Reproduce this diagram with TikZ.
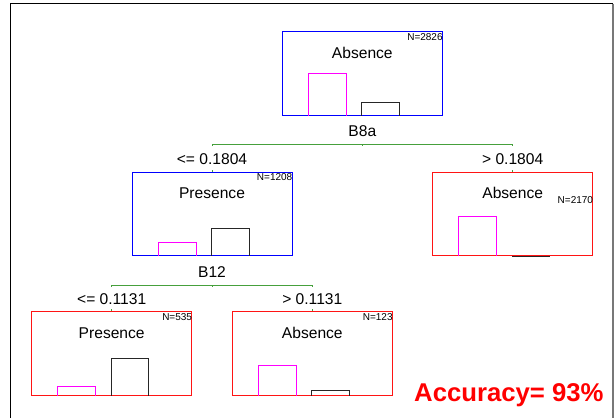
\documentclass[tikz,border=0pt]{standalone}
\usepackage{fontspec}
\setmainfont{Liberation Sans}
\usetikzlibrary{calc}
\definecolor{boxblue}{RGB}{0,0,255}
\definecolor{boxred}{RGB}{255,20,20}
\definecolor{barmag}{RGB}{255,0,255}
\definecolor{splitgreen}{RGB}{70,160,60}
\definecolor{framegray}{RGB}{120,120,120}
\tikzset{
  bluebox/.style={draw=boxblue, line width=1pt, minimum width=160pt, minimum height=83.5pt, inner sep=0pt},
  redbox/.style={draw=boxred, line width=1pt, minimum width=160pt, minimum height=83.5pt, inner sep=0pt},
  title/.style={font=\fontsize{15.6}{18}\selectfont, inner sep=0pt, anchor=base},
  count/.style={font=\fontsize{10}{12}\selectfont, inner sep=0pt, anchor=base east},
  cut/.style={font=\fontsize{15.6}{18}\selectfont, inner sep=0pt, anchor=base},
  split/.style={draw=splitgreen, line width=0.9pt},
  magbar/.style={draw=barmag, line width=1pt},
  blkbar/.style={draw=black!85, line width=1pt},
  acc/.style={font=\fontsize{25.7}{30}\selectfont\bfseries, text=red, inner sep=0pt, anchor=base west}
}
\newcommand\drawbars[3]{%
  \draw[magbar] ($(#1.south west)+(26.5,0)$) -- ++(0,-#2) -- ++(38,0) -- ++(0,#2);
  \draw[blkbar] ($(#1.south west)+(80,0)$) -- ++(0,-#3) -- ++(37.5,0) -- ++(0,#3);
}
\begin{document}
\begin{tikzpicture}[x=1pt,y=-1pt]
\useasboundingbox (0,0) rectangle (616,418);
% frame
\coordinate (fbl) at (10.5,418);
\coordinate (ftl) at (10.5,3.5);
\coordinate (ftr) at (613,3.5);
\coordinate (fbr) at (613,418);
\draw[line width=1.2pt, black] (fbl) -- (ftl) -- (ftr);
\draw[line width=2pt, framegray] (ftr) -- (fbr);
% boxes
\node[bluebox] (root) at (362.3,73.5) {};
\node[bluebox] (n1) at (212,213.8) {};
\node[redbox] (n2) at (512.7,213.8) {};
\node[redbox] (n3) at (111.7,353.7) {};
\node[redbox] (n4) at (312.3,353.7) {};
% titles
\node[title] (t0) at ($(root.north)+(0,27.4)$) {Absence};
\node[title] (t1) at ($(n1.north)+(0,27.4)$) {Presence};
\node[title] (t2) at ($(n2.north)+(0,27.4)$) {Absence};
\node[title] (t3) at ($(n3.north)+(0,27.4)$) {Presence};
\node[title] (t4) at ($(n4.north)+(0,27.4)$) {Absence};
% counts
\node[count] (c0) at ($(root.north east)+(0,9.5)$) {N=2826};
\node[count] (c1) at ($(n1.north east)+(0,9.2)$) {N=1208};
\node[count] (c2) at ($(n2.north east)+(0,31.7)$) {N=2170};
\node[count] (c3) at ($(n3.north east)+(0,9.2)$) {N=535};
\node[count] (c4) at ($(n4.north east)+(0,9.2)$) {N=123};
% bars
\drawbars{root}{42}{13.3}
\drawbars{n1}{13.6}{27.6}
\drawbars{n2}{39.6}{0}
\drawbars{n3}{9.3}{37}
\drawbars{n4}{30.6}{5}
% splits
\node[cut] (v0) at ($(root.south)+(0,20.4)$) {B8a};
\coordinate (s0) at ($(root.south)+(0,28.4)$);
\draw[split] ($(n1.north |- s0)+(0,2)$) -- (n1.north |- s0) -- (n2.north |- s0) -- ++(0,2);
\draw[split] (s0) -- ++(0,2);
\draw[split] (n1.north) -- ++(0,-2);
\draw[split] (n2.north) -- ++(0,-2);
\node[cut] (l1) at ($(n1.north)+(0,-7.3)$) {<= 0.1804};
\node[cut] (l2) at ($(n2.north)+(0,-7.3)$) {> 0.1804};
\node[cut] (v1) at ($(n1.south)+(0,21.4)$) {B12};
\coordinate (s1) at ($(n1.south)+(0,29)$);
\draw[split] ($(n3.north |- s1)+(0,2)$) -- (n3.north |- s1) -- (n4.north |- s1) -- ++(0,2);
\draw[split] (s1) -- ++(0,2);
\draw[split] (n3.north) -- ++(0,-2);
\draw[split] (n4.north) -- ++(0,-2);
\node[cut] (l3) at ($(n3.north)+(0,-7)$) {<= 0.1131};
\node[cut] (l4) at ($(n4.north)+(0,-7)$) {> 0.1131};
% accuracy
\node[acc] (accuracy) at (414,401.7) {Accuracy= 93\%};
\end{tikzpicture}
\end{document}
